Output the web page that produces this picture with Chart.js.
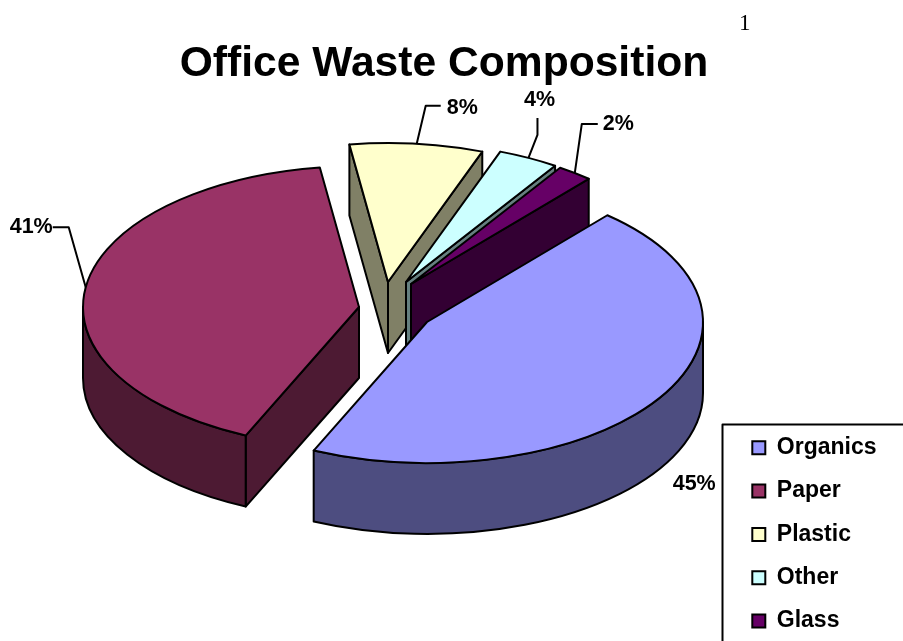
<!DOCTYPE html>
<html>
<head>
<meta charset="utf-8">
<title>Office Waste Composition</title>
<script src="https://cdn.jsdelivr.net/npm/chart.js@4"></script>
<style>
  html, body { margin: 0; background: #fff; }
  canvas { display: block; }
</style>
</head>
<body>
<canvas id="chart" width="903" height="641"></canvas>
<script>
const categories = ["Organics", "Paper", "Plastic", "Other", "Glass"];
// slice sizes, labels show them rounded
const percents = [45.4, 41.0, 7.9, 3.6, 2.1];
const topColors = ["#9999FF", "#993366", "#FFFFCC", "#CCFFFF", "#660066"];
const sideColors = ["#4D4D80", "#4D1A33", "#808066", "#668080", "#330033"];

// look of the fake 3d pie
const firstSliceAngle = 40.8;
const pieDepth = 71;
const paintOrder = [2, 3, 4, 1, 0]; // back to front
const sliceCenters = [[427, 322], [359, 307], [388, 282], [406, 282], [411, 284]];
const sliceRadii = [[276, 141], [276, 141], [272, 139], [272, 139], [272, 139]];

// label spots, offsets from the rim point in the middle of each slice
const labelOffsets = [[56, 86], [-33, -60], [30, -36], [11, -58], [28, -49]];
const labelAligns = ["right", "right", "left", "center", "left"];
const leaderBends = [null, [[-17, -60], [-33, -60]], [[9, -38], [24, -38]], [[9, -23], [9, -40]], [[7, -49], [23, -49]]];

const pie3d = {
  id: "pie3d",
  afterLayout(chart) {
    // title sits a bit left of the middle, legend goes in its box
    chart.titleBlock.left = 0;
    chart.titleBlock.right = 888;
    chart.legend.left = 732;
    chart.legend.right = 903;
    chart.legend.top = 416;
    chart.legend.bottom = 700;
  },
  beforeDatasetsDraw(chart) {
    const ctx = chart.ctx;
    const arcs = chart.getDatasetMeta(0).data;
    ctx.lineWidth = 2;
    ctx.lineJoin = "round";
    ctx.strokeStyle = "#000";

    paintOrder.forEach(i => {
      const arc = arcs[i];
      const [cx, cy] = sliceCenters[i];
      const [rx, ry] = sliceRadii[i];
      const a0 = arc.startAngle, a1 = arc.endAngle;

      // straight walls that face us
      ctx.fillStyle = sideColors[i];
      if (-Math.cos(a0) > 0) wall(ctx, cx, cy, rx, ry, a0);
      if (Math.cos(a1) > 0) wall(ctx, cx, cy, rx, ry, a1);

      // curved wall
      const lo = Math.max(a0, 0), hi = Math.min(a1, Math.PI);
      if (hi > lo) {
        ctx.beginPath();
        ctx.ellipse(cx, cy, rx, ry, 0, lo, hi);
        ctx.ellipse(cx, cy + pieDepth, rx, ry, 0, hi, lo, true);
        ctx.closePath();
        ctx.fill();
        ctx.stroke();
      }

      // top face is the real chart.js arc, squashed
      ctx.save();
      ctx.translate(cx, cy);
      ctx.scale(rx / arc.outerRadius, ry / arc.outerRadius);
      ctx.translate(-arc.x, -arc.y);
      arc.draw(ctx);
      ctx.restore();

      ctx.beginPath();
      ctx.moveTo(cx, cy);
      ctx.ellipse(cx, cy, rx, ry, 0, a0, a1);
      ctx.closePath();
      ctx.stroke();
    });

    drawLabels(ctx, arcs);
    return false;
  },
  afterDraw(chart) {
    const ctx = chart.ctx;
    // legend frame runs off the page on the right and bottom
    ctx.lineWidth = 2;
    ctx.strokeStyle = "#000";
    ctx.strokeRect(722.5, 424.5, 200, 240);
    // page number
    ctx.fillStyle = "#000";
    ctx.font = "23px 'Liberation Serif'";
    ctx.textAlign = "left";
    ctx.textBaseline = "alphabetic";
    ctx.fillText("1", 739, 30);
  }
};

function wall(ctx, cx, cy, rx, ry, angle) {
  const x = cx + rx * Math.cos(angle), y = cy + ry * Math.sin(angle);
  ctx.beginPath();
  ctx.moveTo(cx, cy);
  ctx.lineTo(x, y);
  ctx.lineTo(x, y + pieDepth);
  ctx.lineTo(cx, cy + pieDepth);
  ctx.closePath();
  ctx.fill();
  ctx.stroke();
}

function drawLabels(ctx, arcs) {
  ctx.font = "bold 21.5px 'Liberation Sans'";
  ctx.textBaseline = "middle";
  ctx.fillStyle = "#000";
  ctx.lineWidth = 2;
  arcs.forEach((arc, i) => {
    const mid = (arc.startAngle + arc.endAngle) / 2;
    const x = sliceCenters[i][0] + sliceRadii[i][0] * Math.cos(mid);
    const y = sliceCenters[i][1] + sliceRadii[i][1] * Math.sin(mid);
    if (leaderBends[i]) {
      ctx.beginPath();
      ctx.moveTo(x, y);
      leaderBends[i].forEach(p => ctx.lineTo(x + p[0], y + p[1]));
      ctx.stroke();
    }
    ctx.textAlign = labelAligns[i];
    ctx.fillText(Math.round(percents[i]) + "%", x + labelOffsets[i][0], y + labelOffsets[i][1]);
  });
}

new Chart(document.getElementById("chart"), {
  type: "pie",
  data: {
    labels: categories,
    datasets: [{
      data: percents,
      backgroundColor: topColors,
      borderWidth: 0
    }]
  },
  plugins: [pie3d],
  options: {
    responsive: false,
    animation: false,
    rotation: firstSliceAngle,
    events: [],
    plugins: {
      tooltip: { enabled: false },
      title: {
        display: true,
        text: "Office Waste Composition",
        color: "#000",
        font: { family: "'Liberation Sans'", size: 42.6, weight: "bold" },
        padding: { top: 39, bottom: 0 }
      },
      legend: {
        position: "right",
        align: "start",
        labels: {
          boxWidth: 13,
          boxHeight: 13,
          padding: 20.3,
          color: "#000",
          font: { family: "'Liberation Sans'", size: 23, weight: "bold" },
          generateLabels(chart) {
            return Chart.overrides.pie.plugins.legend.labels.generateLabels(chart).map(item => {
              item.strokeStyle = "#000";
              item.lineWidth = 2;
              return item;
            });
          }
        }
      }
    }
  }
});
</script>
</body>
</html>
